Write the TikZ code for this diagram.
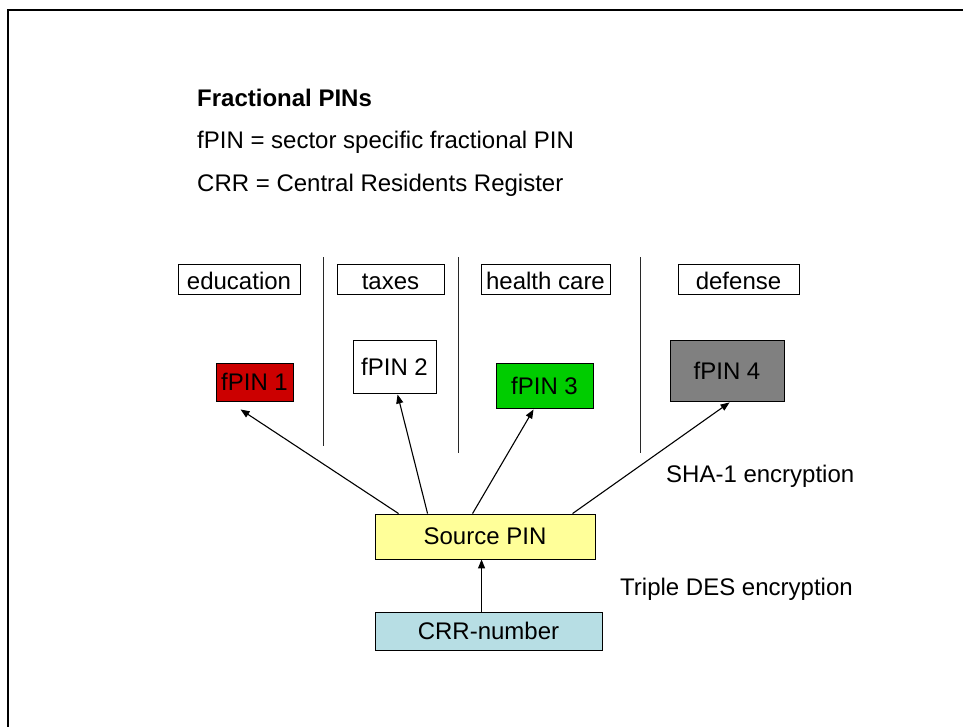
\documentclass[tikz,border=0pt]{standalone}
\usepackage{fontspec}
\setmainfont{Liberation Sans}
\usetikzlibrary{arrows.meta,calc}

\definecolor{pinred}{RGB}{204,0,0}
\definecolor{pingreen}{RGB}{0,204,0}
\definecolor{pingray}{RGB}{128,128,128}
\definecolor{srcyellow}{RGB}{255,255,153}
\definecolor{crrblue}{RGB}{183,222,228}
\definecolor{rulegray}{RGB}{40,40,40}

\tikzset{
  every node/.style={font=\fontsize{24}{28}\selectfont},
  box/.style={draw=black, line width=0.9pt, rectangle, inner sep=0pt, align=center},
  sector/.style={box, minimum height=30pt, text height=21pt, text depth=0pt},
  arr/.style={draw=black, line width=1.1pt, -{Triangle[length=9pt,width=7pt]}},
  divider/.style={draw=rulegray, line width=1pt},
  caption/.style={anchor=base west, inner sep=0pt}
}

\begin{document}
\begin{tikzpicture}[x=1pt, y=-1pt]
  \useasboundingbox (0,0) rectangle (963,726);

  % slide frame (top and left edges)
  \draw[line width=2pt, line cap=rect] (8,726) -- (8,10) -- (963,10);

  % heading and legend
  \node[caption, font=\fontsize{24}{28}\selectfont\bfseries] (title) at (197,106) {Fractional PINs};
  \node[caption] (leg1) at (197,148) {fPIN = sector specific fractional PIN};
  \node[caption] (leg2) at (197,191) {CRR = Central Residents Register};

  % sector labels
  \node[sector, minimum width=122pt] (edu) at (239,279) {education};
  \node[sector, minimum width=107pt] (tax) at (390.5,279) {taxes};
  \node[sector, minimum width=129pt] (hea) at (545.5,279) {health care};
  \node[sector, minimum width=121pt] (def) at (738.5,279) {defense};

  % sector dividers
  \draw[divider] (323,257) -- (323,446);
  \draw[divider] (458,257) -- (458,453);
  \draw[divider] (640,257) -- (640,453);

  % fractional PINs
  \node[box, fill=pinred, minimum width=77pt, minimum height=38pt] (f1) at (254.5,382) {fPIN 1};
  \node[box, fill=white, minimum width=83pt, minimum height=53pt] (f2) at (394.5,366.5) {fPIN 2};
  \node[box, fill=pingreen, minimum width=97pt, minimum height=45pt] (f3) at (544.5,385.5) {fPIN 3};
  \node[box, fill=pingray, minimum width=114pt, minimum height=61pt] (f4) at (727,370.5) {fPIN 4};

  % source and register
  \node[box, fill=srcyellow, minimum width=220pt, minimum height=45pt] (src) at (485,536.5) {Source PIN};
  \node[box, fill=crrblue, minimum width=227pt, minimum height=38pt] (crr) at (488.5,631) {CRR-number};

  % derivation arrows
  \draw[arr] ($(src.north west)+(24,0)$) -- ($(f1.south west)+(25,8)$);
  \draw[arr] ($(src.north west)+(53,0)$) -- ($(f2.south west)+(45,1)$);
  \draw[arr] ($(src.north west)+(98,0)$) -- ($(f3.south west)+(38,1)$);
  \draw[arr] ($(src.north west)+(198,0)$) -- ($(f4.south west)+(60,1)$);
  \draw[arr] ($(crr.north west)+(107,0)$) -- ($(src.south west)+(107,0)$);

  % method labels
  \node[caption] (sha) at (666,482) {SHA-1 encryption};
  \node[caption] (des) at (620,595) {Triple DES encryption};
\end{tikzpicture}
\end{document}
